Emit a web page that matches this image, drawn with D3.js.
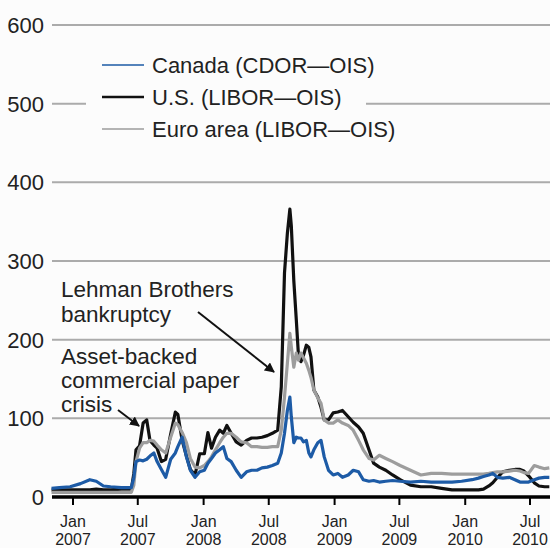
<!DOCTYPE html>
<html>
<head>
<meta charset="utf-8">
<script src="https://cdn.jsdelivr.net/npm/d3@7"></script>
<style>
  body { margin: 0; background: #fcfcfc; }
  svg { display: block; font-family: 'Liberation Sans', Arial, sans-serif; }
</style>
</head>
<body>
<svg id="chart" width="550" height="548"></svg>
<script>
// dates of the readings (basis points)
const dates = [
  '2006-11-02', '2006-11-24', '2006-12-24', '2007-01-22', '2007-02-17', '2007-03-07', '2007-03-27',
  '2007-04-16', '2007-05-16', '2007-06-13', '2007-06-20', '2007-06-26', '2007-07-06', '2007-07-16',
  '2007-07-26', '2007-08-04', '2007-08-15', '2007-08-24', '2007-09-05', '2007-09-17', '2007-10-01',
  '2007-10-14', '2007-10-21', '2007-11-02', '2007-11-14', '2007-11-25', '2007-12-08', '2007-12-21',
  '2008-01-03', '2008-01-13', '2008-01-23', '2008-02-03', '2008-02-15', '2008-02-25', '2008-03-06',
  '2008-03-18', '2008-04-01', '2008-04-15', '2008-04-30', '2008-05-14', '2008-05-29', '2008-06-12',
  '2008-06-27', '2008-07-11', '2008-07-26', '2008-08-05', '2008-08-14', '2008-08-22', '2008-08-29',
  '2008-09-02', '2008-09-09', '2008-09-16', '2008-09-22', '2008-09-29', '2008-10-06', '2008-10-14',
  '2008-10-21', '2008-10-27', '2008-11-04', '2008-11-15', '2008-11-24', '2008-12-03', '2008-12-15',
  '2008-12-28', '2009-01-10', '2009-01-23', '2009-02-08', '2009-02-22', '2009-03-09', '2009-03-22',
  '2009-04-07', '2009-04-20', '2009-05-06', '2009-05-24', '2009-06-12', '2009-07-03', '2009-08-01',
  '2009-08-30', '2009-09-28', '2009-10-27', '2009-11-25', '2009-12-22', '2010-01-20', '2010-02-07',
  '2010-02-21', '2010-03-08', '2010-03-19', '2010-04-01', '2010-04-16', '2010-05-04', '2010-05-20',
  '2010-06-03', '2010-06-14', '2010-06-27', '2010-07-13', '2010-07-26', '2010-08-11', '2010-08-24'
]

const usValues = [
  9, 9, 9, 9, 9, 10, 9, 9, 10, 10, 30, 60, 65, 94,
  98, 72, 66, 62, 45, 48, 80, 108, 105, 72, 52, 35, 28, 55,
  55, 82, 62, 76, 85, 81, 91, 81, 70, 66, 72, 75, 75, 76,
  78, 81, 85, 140, 285, 335, 366, 345, 275, 225, 180, 172, 180, 193,
  190, 178, 136, 127, 114, 98, 98, 107, 108, 110, 102, 95, 89, 81,
  60, 43, 38, 34, 28, 22, 15, 13, 13, 11, 9, 9, 9, 9,
  10, 14, 18, 25, 32, 34, 35, 35, 33, 27, 18, 14, 13, 13
]

const euroValues = [
  6, 6, 6, 6, 6, 6, 6, 6, 6, 6, 15, 45, 62, 69,
  69, 72, 71, 66, 60, 56, 76, 94, 92, 82, 69, 49, 38, 37,
  40, 45, 51, 60, 69, 76, 81, 81, 76, 70, 69, 64, 64, 63,
  63, 64, 64, 85, 127, 170, 208, 191, 165, 183, 174, 183, 177, 170,
  161, 152, 136, 126, 119, 98, 94, 94, 98, 94, 91, 85, 72, 60,
  49, 47, 53, 49, 45, 40, 34, 28, 30, 30, 29, 29, 29, 29,
  29, 30, 31, 32, 32, 33, 34, 33, 31, 30, 40, 38, 36, 37
]

const canadaValues = [
  11, 12, 13, 17, 22, 20, 14, 13, 12, 12, 25, 45, 47, 46,
  48, 52, 56, 45, 35, 25, 48, 56, 64, 76, 51, 34, 25, 32,
  34, 43, 49, 56, 60, 64, 49, 45, 34, 25, 32, 34, 34, 37,
  38, 40, 43, 56, 81, 110, 127, 102, 69, 76, 75, 75, 70, 72,
  56, 51, 60, 69, 72, 51, 34, 28, 30, 25, 28, 34, 32, 22,
  20, 21, 19, 20, 21, 20, 19, 20, 19, 19, 19, 20, 22, 24,
  26, 28, 30, 25, 24, 25, 22, 19, 19, 19, 22, 24, 25, 25
]

const seriesNames = ['Canada (CDOR\u2014OIS)', 'U.S. (LIBOR\u2014OIS)', 'Euro area (LIBOR\u2014OIS)']
const yTicks = [0, 100, 200, 300, 400, 500, 600]
const xTicks = ['2007-01-01', '2007-07-01', '2008-01-01', '2008-07-01', '2009-01-01', '2009-07-01', '2010-01-01', '2010-07-01']

window.addEventListener('load', makeChart)
function makeChart() {
  const svg = d3.select('#chart')
  const parse = d3.timeParse('%Y-%m-%d')
  const dts = dates.map(parse)

  const scX = d3.scaleTime()
    .domain([parse('2007-01-01'), parse('2010-07-01')])
    .range([73, 530])
  const scY = d3.scaleLinear().domain([0, 600]).range([497, 25])

  // grid
  svg.selectAll('line.grid')
    .data(yTicks.filter((d) => d > 0))
    .enter()
    .append('line')
    .attr('class', 'grid')
    .attr('x1', 52)
    .attr('x2', 550)
    .attr('y1', (d) => scY(d))
    .attr('y2', (d) => scY(d))
    .attr('stroke', '#ababab')
    .attr('stroke-width', 2)

  svg.selectAll('text.ylab')
    .data(yTicks)
    .enter()
    .append('text')
    .attr('class', 'ylab')
    .attr('x', 44)
    .attr('y', (d) => scY(d) + 8)
    .attr('text-anchor', 'end')
    .attr('font-size', 22)
    .attr('fill', '#222')
    .text((d) => d)

  // legend box knocks out the 500 grid line
  svg.append('rect')
    .attr('x', 86).attr('y', 45)
    .attr('width', 280).attr('height', 100)
    .attr('fill', '#fcfcfc')

  const line = (vals) => d3.line()
    .x((d, i) => scX(dts[i]))
    .y((d) => scY(d))(vals)

  const series = [
    { vals: usValues, color: '#111' },
    { vals: euroValues, color: '#9d9d9d' },
    { vals: canadaValues, color: '#1d5ba6' }
  ]
  svg.selectAll('path.series')
    .data(series)
    .enter()
    .append('path')
    .attr('class', 'series')
    .attr('d', (d) => line(d.vals))
    .attr('fill', 'none')
    .attr('stroke', (d) => d.color)
    .attr('stroke-width', 3.2)
    .attr('stroke-linejoin', 'round')

  // x axis
  svg.append('line')
    .attr('x1', 52).attr('x2', 550)
    .attr('y1', 497).attr('y2', 497)
    .attr('stroke', '#000')
    .attr('stroke-width', 3.5)

  const tk = svg.selectAll('g.xt')
    .data(xTicks.map(parse))
    .enter()
    .append('g')
    .attr('class', 'xt')
    .attr('transform', (d) => 'translate(' + scX(d) + ',0)')
  tk.append('line')
    .attr('y1', 497).attr('y2', 505)
    .attr('stroke', '#000').attr('stroke-width', 2)
  tk.append('text')
    .attr('y', 527)
    .attr('text-anchor', 'middle')
    .attr('font-size', 16)
    .attr('fill', '#222')
    .text(d3.timeFormat('%b'))
  tk.append('text')
    .attr('y', 545)
    .attr('text-anchor', 'middle')
    .attr('font-size', 16)
    .attr('fill', '#222')
    .text(d3.timeFormat('%Y'))

  // legend
  const legColors = ['#1d5ba6', '#111', '#9d9d9d']
  const lg = svg.selectAll('g.leg')
    .data(seriesNames)
    .enter()
    .append('g')
    .attr('class', 'leg')
    .attr('transform', (d, i) => 'translate(0,' + (65 + 32 * i) + ')')
  lg.append('line')
    .attr('x1', 102).attr('x2', 144)
    .attr('stroke', (d, i) => legColors[i])
    .attr('stroke-width', (d, i) => (i == 1 ? 2.5 : 1.5))
  lg.append('text')
    .attr('x', 152).attr('y', 8)
    .attr('font-size', 22)
    .attr('fill', '#222')
    .text((d) => d)

  // annotations
  const notes = [
    { x: 61, y: 297, t: 'Lehman Brothers' },
    { x: 61, y: 322, t: 'bankruptcy' },
    { x: 61, y: 364, t: 'Asset-backed' },
    { x: 61, y: 388, t: 'commercial paper' },
    { x: 61, y: 412, t: 'crisis' }
  ]
  svg.selectAll('text.note')
    .data(notes)
    .enter()
    .append('text')
    .attr('class', 'note')
    .attr('x', (d) => d.x)
    .attr('y', (d) => d.y)
    .attr('font-size', 22.5)
    .attr('fill', '#222')
    .text((d) => d.t)

  svg.append('defs').append('marker')
    .attr('id', 'arr')
    .attr('viewBox', '0 0 10 10')
    .attr('refX', 9).attr('refY', 5)
    .attr('markerWidth', 5).attr('markerHeight', 5)
    .attr('orient', 'auto')
    .append('path')
    .attr('d', 'M0,0L10,5L0,10z')
    .attr('fill', '#111')

  const arrows = [
    [[198, 312], [274, 372]],
    [[118, 410], [139, 426]]
  ]
  svg.selectAll('line.arrow')
    .data(arrows)
    .enter()
    .append('line')
    .attr('class', 'arrow')
    .attr('x1', (d) => d[0][0]).attr('y1', (d) => d[0][1])
    .attr('x2', (d) => d[1][0]).attr('y2', (d) => d[1][1])
    .attr('stroke', '#111')
    .attr('stroke-width', 2)
    .attr('marker-end', 'url(#arr)')
}
</script>
</body>
</html>
